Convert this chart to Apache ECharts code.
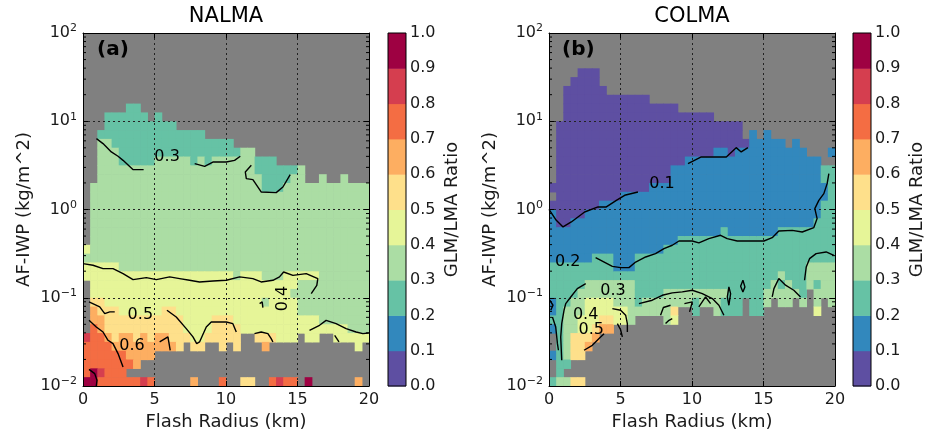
<!DOCTYPE html>
<html><head><meta charset="utf-8">
<script src="https://cdn.jsdelivr.net/npm/echarts@6/dist/echarts.min.js"></script>
<style>html,body{margin:0;padding:0;background:#fff;}#c{width:930px;height:431px;}</style>
</head><body><div id="c"></div>
<script>
const FONT = 'DejaVu Sans';
// Spectral_r, 10 discrete levels: 0.0-0.1 ... 0.9-1.0
const levelColors = ['#5e4fa2','#3288bd','#66c2a5','#abdda4','#e6f598','#fee08b','#fdae61','#f46d43','#d53e4f','#9e0142'];
const colorbarEdges = [0,0.1,0.2,0.3,0.4,0.5,0.6,0.7,0.8,0.9,1.0];
const xTicksKm = [0,5,10,15,20];
const yRangeIWP = [0.01, 100];
const xBinKm = 0.5;          // flash radius bin width
const yBinsPerDecade = 10;    // AF-IWP bins per decade
const panelTitles = ['NALMA','COLMA'];
const panelTags = ['(a)','(b)'];

// Ratio level per cell ('.' = no data, digit d = ratio in [d/10,(d+1)/10)), run-length tokens: symbol + count
// NALMA: rows from top (10^2) to bottom (10^-2), 40 columns of 0.5 km
const nalmaRowsRLE = [
 '.40','.40','.40','.40','.40','.40','.40','.40',
 '.6 22 .32',
 '.3 26 . 2 .29',
 '.3 210 .27',
 '.2 215 .23',
 '.2 32 217 .19',
 '.2 33 217 32 .16',
 '.2 33 25 35 2 3 2 36 23 .13',
 '.2 322 26 3 .9',
 '.2 323 24 32 .2 3 .2 3 .3',
 '. 324 23 312',
 '. 339','. 339','. 339','. 339','. 339','. 339',
 '4 339',
 '340',
 '45 335',
 '421 3 43 33 45 37',
 '. 429 310',
 '. 428 311',
 '. 52 422 3 44 310',
 '. 6 53 46 52 417 310',
 '. 62 511 44 53 412 37',
 '. 7 6 511 44 54 415 33',
 '8 72 6 5 62 5 6 5 62 53 42 55 .2 53 43 . 42 .2 45',
 '74 69 5 . 52 .2 5 . 5 .3 6 .12 4 .',
 '76 64 .30',
 '77 6 .32',
 '7 9 8 73 .34',
 '92 76 8 7 .5 6 .3 7 .2 52 .2 7 8 72 . 9 .6 6 .'
];
// COLMA: columns (0.5 km each), each from top (10^2) to bottom (10^-2)
const colmaColsRLE = [
 '.17 0 . 0 16 24 12 2 1 .2 1 .2 2',
 '.10 012 14 213 3',
 '.6 016 14 25 36 2 . 3',
 '.5 016 15 24 34 53 .2 5',
 '.4 017 15 23 33 42 53 .2 5',
 '.4 016 16 22 32 44 5 6 .4',
 '.4 016 15 23 32 43 5 6 .5',
 '.6 013 16 23 32 42 5 6 .6',
 '.7 012 16 23 32 42 5 6 .6',
 '.7 012 18 2 33 42 .7',
 '.7 011 19 2 33 42 .7',
 '.7 011 19 2 35 .7',
 '.7 011 17 26 3 .8',
 '.7 011 17 25 32 .8',
 '.8 09 18 25 32 .8',
 '.8 09 18 25 32 .8',
 '.8 09 17 25 34 .7',
 '.8 07 19 25 32 5 4 .7',
 '.9 06 18 26 32 .9',
 '.9 05 19 26 32 .9',
 '.9 05 19 26 3 22 .8',
 '.9 05 19 26 32 .9',
 '.9 05 19 26 32 .9',
 '.10 03 110 26 33 .8',
 '.10 03 19 27 3 22 .8',
 '.10 04 19 29 .8',
 '.10 03 110 29 .8',
 '.12 0 110 27 .10',
 '.11 112 29 .8',
 '.12 111 29 .8',
 '.11 112 26 32 .9',
 '.12 111 25 32 .10',
 '.12 110 25 3 2 32 .9',
 '.13 19 26 33 .9',
 '.12 110 27 3 .10',
 '.13 19 28 3 .9',
 '.14 18 24 33 .11',
 '.14 17 25 32 2 32 4 .8',
 '.15 22 12 27 34 .10',
 '.13 1 . 211 35 .9'
];

// Contour lines: [flash radius km, log10(AF-IWP)]
const nalmaContours = [
 [[0.94,0.803],[1.40,0.747],[1.98,0.652],[2.45,0.603],[2.80,0.557],[3.49,0.452],[4.24,0.452]],
 [[7.81,0.520],[8.51,0.489],[9.08,0.538],[10.02,0.538],[10.6,0.557],[11.0,0.603]],
 [[11.77,0.501],[11.35,0.425],[11.42,0.350],[11.88,0.339],[12.47,0.198],[13.51,0.191],[13.98,0.255],[14.49,0.395]],
 [[0,-0.613],[0.7,-0.632],[1.4,-0.67],[2.1,-0.67],[2.8,-0.726],[3.5,-0.794],[4.43,-0.772],[5.13,-0.794],[6.06,-0.764],[6.76,-0.783],[7.45,-0.802],[8.15,-0.821],[9.09,-0.81],[10.02,-0.802],[10.95,-0.764],[11.88,-0.783],[12.46,-0.821],[13.28,-0.802],[13.74,-0.764],[14.03,-0.708],[14.68,-0.746],[15.61,-0.726],[16.42,-0.783],[16.35,-0.859],[15.96,-0.953]],
 [[12.35,-1.066],[12.53,-1.047],[12.58,-1.112]],
 [[15.84,-1.369],[16.54,-1.312],[17.0,-1.256],[17.7,-1.294],[18.4,-1.35],[19.1,-1.388],[19.57,-1.407],[19.99,-1.4]],
 [[17.6,-1.426],[17.9,-1.501]],
 [[0.42,-1.048],[1.17,-1.104],[1.52,-1.18],[1.87,-1.16],[2.22,-1.16]],
 [[5.87,-1.142],[6.52,-1.218],[7.22,-1.35],[7.69,-1.444],[7.95,-1.52],[8.15,-1.501],[8.62,-1.331],[8.97,-1.275],[10.02,-1.275],[10.48,-1.294],[10.72,-1.388]],
 [[11.99,-1.407],[12.46,-1.388],[12.93,-1.407],[13.16,-1.463],[13.28,-1.501]],
 [[0.42,-1.256],[0.93,-1.331],[1.40,-1.388],[1.75,-1.482],[2.10,-1.52],[2.45,-1.633],[2.80,-1.784]],
 [[5.36,-1.501],[5.94,-1.444],[6.10,-1.595]],
 [[0.42,-1.811],[0.82,-1.86],[0.98,-1.935],[0.93,-2.0]]
];
const nalmaLabels = [
 {text:'0.3', x:5.88, ly:0.597, rot:0},
 {text:'0.4', x:13.98, ly:-1.01, rot:90},
 {text:'0.5', x:4.01, ly:-1.199, rot:0},
 {text:'0.6', x:3.43, ly:-1.55, rot:0}
];
const colmaContours = [
 [[0,0.002],[0.51,-0.122],[0.98,-0.198],[1.56,-0.141],[2.49,-0.028],[3.43,0.029],[4.01,0.029],[4.71,0.104],[5.29,0.161],[6.22,0.198]],
 [[9.72,0.520],[10.65,0.595],[12.4,0.595],[13.09,0.701],[13.44,0.652],[13.91,0.701]],
 [[3.26,-0.545],[4.43,-0.644],[5.01,-0.659],[5.59,-0.659],[6.06,-0.595],[6.76,-0.538],[7.45,-0.5],[8.04,-0.443],[8.62,-0.405],[9.09,-0.357],[10.02,-0.357],[10.48,-0.379],[11.18,-0.33],[12.0,-0.292],[12.46,-0.33],[13.16,-0.357],[15.03,-0.357],[15.61,-0.319],[16.07,-0.243],[17.01,-0.236],[17.71,-0.255],[18.52,-0.205],[18.75,-0.103],[18.59,0.010],[18.87,0.104],[19.22,0.18],[19.45,0.293],[19.57,0.407]],
 [[2.57,-0.84],[1.98,-0.896],[1.52,-0.991],[1.17,-1.066],[1.05,-1.142],[0.89,-1.293],[0.82,-1.444],[0.89,-1.709]],
 [[6.29,-1.066],[7.22,-1.028],[7.92,-0.972],[8.62,-0.945],[9.32,-0.934],[10.02,-0.915],[10.72,-0.953],[11.42,-1.009],[11.88,-1.085],[12.23,-1.198]],
 [[9.47,-1.066],[10.02,-1.047],[9.83,-1.16]],
 [[10.48,-1.104],[10.95,-0.991],[11.30,-1.066]],
 [[12.58,-0.877],[12.70,-0.953],[12.58,-1.085],[12.47,-0.991],[12.58,-0.877]],
 [[13.56,-0.802],[13.70,-0.877],[13.56,-0.934],[13.40,-0.870],[13.56,-0.802]],
 [[15.61,-0.991],[15.73,-0.896],[16.07,-0.783],[16.54,-0.858],[17.12,-0.915],[17.59,-0.991]],
 [[17.87,-0.802],[17.99,-0.651],[18.22,-0.557],[18.68,-0.5],[19.38,-0.481],[19.92,-0.519]],
 [[0.05,-1.028],[0.28,-1.085],[0.12,-1.142]],
 [[0.24,-1.218],[0.47,-1.331],[0.59,-1.52],[0.66,-1.595]],
 [[4.43,-1.123],[5.01,-1.142],[5.36,-1.198],[5.48,-1.293],[5.48,-1.388]],
 [[4.78,-1.293],[5.0,-1.36],[5.13,-1.444]],
 [[2.45,-1.595],[3.03,-1.539],[3.50,-1.463],[3.85,-1.407]],
 [[7.80,-1.198],[8.0,-1.11],[8.50,-1.085]],
 [[8.15,-1.293],[8.39,-1.256],[8.62,-1.237]]
];
const colmaLabels = [
 {text:'0.1', x:7.90, ly:0.286, rot:0},
 {text:'0.2', x:1.31, ly:-0.593, rot:0},
 {text:'0.3', x:4.47, ly:-0.923, rot:0},
 {text:'0.4', x:2.56, ly:-1.199, rot:0},
 {text:'0.5', x:2.96, ly:-1.369, rot:0}
];

// ---------- build ----------
function decodeRLE(s){
  let out='';
  s.trim().split(/\s+/).forEach(tok=>{const ch=tok[0];const n=tok.length>1?parseInt(tok.slice(1),10):1;out+=ch.repeat(n);});
  while(out.length<40) out+='.';
  return out.slice(0,40);
}
const yMinExp = Math.log10(yRangeIWP[0]);
function cellItem(col,tTop,ch){
  const lvl=parseInt(ch,10);
  const rb=39-tTop;
  return [col*xBinKm, Math.pow(10,yMinExp+rb/yBinsPerDecade), (col+1)*xBinKm, Math.pow(10,yMinExp+(rb+1)/yBinsPerDecade), (lvl+0.5)/10];
}
const nalmaCells=[];
nalmaRowsRLE.forEach((r,t)=>{const s=decodeRLE(r);for(let c=0;c<40;c++){if(s[c]!=='.')nalmaCells.push(cellItem(c,t,s[c]));}});
const colmaCells=[];
colmaColsRLE.forEach((r,c)=>{const s=decodeRLE(r);for(let t=0;t<40;t++){if(s[t]!=='.')colmaCells.push(cellItem(c,t,s[t]));}});

const minorTicks=[];
for(let e=-2;e<2;e++){for(let m=2;m<=9;m++){minorTicks.push([0,m*Math.pow(10,e)]);}}

const panels=[
 {plot:{left:83,top:33,width:286,height:353}, cb:{left:388,top:33,width:18,height:353}, cells:nalmaCells, contours:nalmaContours, labels:nalmaLabels, titleX:226, tagX:97},
 {plot:{left:549,top:33,width:286,height:353}, cb:{left:853,top:33,width:18,height:353}, cells:colmaCells, contours:colmaContours, labels:colmaLabels, titleX:692, tagX:562}
];

const grid=[], xAxis=[], yAxis=[], series=[], graphic=[];
const black='#000', txt='#1a1a1a';
panels.forEach((p,i)=>{
  const g0=2*i, g1=2*i+1, a=3*i;
  grid.push(Object.assign({show:true, backgroundColor:'#808080', borderWidth:0, containLabel:false, outerBoundsMode:'none'}, p.plot));
  grid.push(Object.assign({show:false, containLabel:false, outerBoundsMode:'none'}, p.cb));
  const lineSt={show:true,onZero:false,lineStyle:{color:black,width:1}};
  xAxis.push({gridIndex:g0,type:'value',min:0,max:20,interval:5,position:'bottom',z:5,
    axisLine:lineSt, axisTick:{show:true,inside:true,length:5,lineStyle:{color:black}},
    axisLabel:{fontSize:16,color:txt,fontFamily:FONT,margin:6,showMinLabel:true,showMaxLabel:true},
    splitLine:{show:true,lineStyle:{color:'#222',width:1,type:[2,3]}},
    name:'Flash Radius (km)',nameLocation:'middle',nameGap:24,nameTextStyle:{fontSize:18,color:txt,fontFamily:FONT}});
  xAxis.push({gridIndex:g0,type:'value',min:0,max:20,interval:5,position:'top',z:5,
    axisLine:lineSt, axisTick:{show:true,inside:true,length:5,lineStyle:{color:black}},
    axisLabel:{show:false}, splitLine:{show:false}});
  xAxis.push({gridIndex:g1,type:'value',min:0,max:1,show:false});
  yAxis.push({gridIndex:g0,type:'log',logBase:10,min:yRangeIWP[0],max:yRangeIWP[1],position:'left',z:5,
    axisLine:lineSt, axisTick:{show:true,inside:true,length:5,lineStyle:{color:black}},
    axisLabel:{margin:6,showMinLabel:true,showMaxLabel:true,
      formatter:v=>{const e=Math.round(Math.log10(v));return '{b|10}{s|'+(e<0?'\u2212'+(-e):e)+'}';},
      rich:{b:{fontSize:16,fontFamily:FONT,color:txt},s:{fontSize:11,fontFamily:FONT,color:txt,verticalAlign:'top',padding:[0,0,9,0]}}},
    splitLine:{show:true,lineStyle:{color:'#222',width:1,type:[2,3]}},
    name:'AF-IWP (kg/m^2)',nameLocation:'middle',nameGap:50,nameRotate:90,nameTextStyle:{fontSize:18,color:txt,fontFamily:FONT}});
  yAxis.push({gridIndex:g0,type:'log',logBase:10,min:yRangeIWP[0],max:yRangeIWP[1],position:'right',z:5,
    axisLine:lineSt, axisTick:{show:true,inside:true,length:5,lineStyle:{color:black}},
    axisLabel:{show:false}, splitLine:{show:false}});
  yAxis.push({gridIndex:g1,type:'value',min:0,max:1,interval:0.1,position:'right',
    axisLine:{show:false}, axisTick:{show:false},
    axisLabel:{fontSize:16,color:txt,fontFamily:FONT,margin:4,formatter:v=>v.toFixed(1),showMinLabel:true,showMaxLabel:true},
    splitLine:{show:false},
    name:'GLM/LMA Ratio',nameLocation:'middle',nameGap:37,nameRotate:90,nameTextStyle:{fontSize:18,color:txt,fontFamily:FONT}});

  // heat cells
  series.push({type:'custom',xAxisIndex:a,yAxisIndex:a,clip:true,silent:true,z:2,
    encode:{x:[0,2],y:[1,3]}, data:p.cells,
    renderItem:(params,api)=>{
      const p0=api.coord([api.value(0),api.value(3)]);
      const p1=api.coord([api.value(2),api.value(1)]);
      const lvl=Math.min(9,Math.floor(api.value(4)*10));
      return {type:'rect',shape:{x:p0[0],y:p0[1],width:p1[0]-p0[0]+0.6,height:p1[1]-p0[1]+0.6},style:{fill:levelColors[lvl]}};
    }});
  // minor log ticks left & right
  series.push({type:'custom',xAxisIndex:a,yAxisIndex:a,clip:false,silent:true,z:6,
    encode:{y:1}, data:minorTicks,
    renderItem:(params,api)=>{
      const pl=api.coord([0,api.value(1)]), pr=api.coord([20,api.value(1)]);
      return {type:'group',children:[
        {type:'line',shape:{x1:pl[0],y1:pl[1],x2:pl[0]+3,y2:pl[1]},style:{stroke:black,lineWidth:1}},
        {type:'line',shape:{x1:pr[0]-3,y1:pr[1],x2:pr[0],y2:pr[1]},style:{stroke:black,lineWidth:1}}]};
    }});
  // contours
  p.contours.forEach(c=>{
    series.push({type:'line',xAxisIndex:a,yAxisIndex:a,silent:true,z:7,symbol:'none',showSymbol:false,
      data:c.map(q=>[q[0],Math.pow(10,q[1])]),lineStyle:{color:black,width:1.4},clip:true});
  });
  // contour labels
  const labs=p.labels;
  series.push({type:'custom',xAxisIndex:a,yAxisIndex:a,silent:true,z:8,clip:false,
    encode:{x:0,y:1}, data:labs.map((l,k)=>[l.x,Math.pow(10,l.ly),k]),
    renderItem:(params,api)=>{
      const pt=api.coord([api.value(0),api.value(1)]);
      const l=labs[api.value(2)];
      return {type:'text',x:pt[0],y:pt[1],rotation:l.rot*Math.PI/180,
        style:{text:l.text,font:'16px "DejaVu Sans"',fill:'#000',align:'center',verticalAlign:'middle'}};
    }});
  // colorbar
  series.push({type:'custom',xAxisIndex:a+2,yAxisIndex:a+2,silent:true,clip:false,
    encode:{x:[0,2],y:[1,3]},
    data:levelColors.map((col,k)=>[0,colorbarEdges[k],1,colorbarEdges[k+1],k]),
    renderItem:(params,api)=>{
      const p0=api.coord([api.value(0),api.value(3)]);
      const p1=api.coord([api.value(2),api.value(1)]);
      return {type:'rect',shape:{x:p0[0],y:p0[1],width:p1[0]-p0[0],height:p1[1]-p0[1]+0.5},style:{fill:levelColors[api.value(4)]}};
    }});
  series.push({type:'custom',xAxisIndex:a+2,yAxisIndex:a+2,silent:true,clip:false,z:5,
    encode:{x:[0,2],y:[1,3]}, data:[[0,0,1,1]],
    renderItem:(params,api)=>{
      const p0=api.coord([0,1]), p1=api.coord([1,0]);
      return {type:'rect',shape:{x:p0[0],y:p0[1],width:p1[0]-p0[0],height:p1[1]-p0[1]},style:{fill:'none',stroke:black,lineWidth:1}};
    }});
  graphic.push({type:'text',x:p.titleX,y:17,style:{text:panelTitles[i],font:'21px "DejaVu Sans"',fill:'#000',align:'center',verticalAlign:'middle'}});
  graphic.push({type:'text',x:p.tagX,y:50,z:10,style:{text:panelTags[i],font:'bold 20px "DejaVu Sans"',fill:'#000',align:'left',verticalAlign:'middle'}});
});

const chart=echarts.init(document.getElementById('c'),null,{renderer:'canvas',width:930,height:431});
chart.setOption({animation:false,backgroundColor:'#fff',textStyle:{fontFamily:FONT},grid,xAxis,yAxis,series,graphic});
</script></body></html>
